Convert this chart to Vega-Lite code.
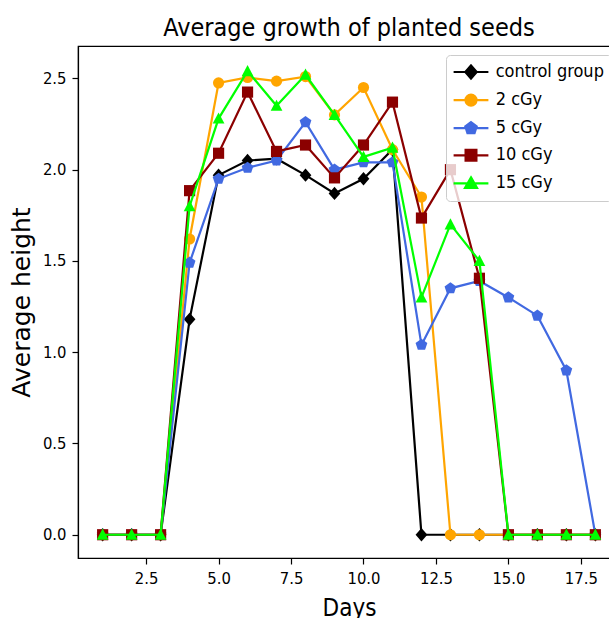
{
  "$schema": "https://vega.github.io/schema/vega-lite/v6.json",
  "autosize": "none",
  "width": 542,
  "height": 512,
  "padding": {"left": 78, "top": 46, "right": 0, "bottom": 60},
  "background": "white",
  "config": {
    "view": {"stroke": "black", "strokeWidth": 1.2},
    "axis": {
      "domainColor": "black", "domainWidth": 1.2, "tickColor": "black", "tickWidth": 1.2, "tickSize": 6,
      "labelColor": "black", "titleColor": "black", "grid": false,
      "labelFont": "DejaVu Sans Condensed", "labelFontSize": 16.5,
      "titleFontWeight": "normal"
    },
    "line": {"strokeWidth": 2.2},
    "point": {"filled": true, "size": 125, "opacity": 1}
  },
  "title": {
    "text": "Average growth of planted seeds",
    "font": "DejaVu Sans Condensed", "fontSize": 25, "fontWeight": "normal", "color": "black",
    "anchor": "middle", "offset": 5
  },
  "data": {
    "values": [
      {"day": 1, "group": "control group", "height": 0},
      {"day": 2, "group": "control group", "height": 0},
      {"day": 3, "group": "control group", "height": 0},
      {"day": 4, "group": "control group", "height": 1.18},
      {"day": 5, "group": "control group", "height": 1.97},
      {"day": 6, "group": "control group", "height": 2.05},
      {"day": 7, "group": "control group", "height": 2.06},
      {"day": 8, "group": "control group", "height": 1.97},
      {"day": 9, "group": "control group", "height": 1.87},
      {"day": 10, "group": "control group", "height": 1.95},
      {"day": 11, "group": "control group", "height": 2.11},
      {"day": 12, "group": "control group", "height": 0},
      {"day": 13, "group": "control group", "height": 0},
      {"day": 14, "group": "control group", "height": 0},
      {"day": 15, "group": "control group", "height": 0},
      {"day": 16, "group": "control group", "height": 0},
      {"day": 17, "group": "control group", "height": 0},
      {"day": 18, "group": "control group", "height": 0},
      {"day": 1, "group": "2 cGy", "height": 0},
      {"day": 2, "group": "2 cGy", "height": 0},
      {"day": 3, "group": "2 cGy", "height": 0},
      {"day": 4, "group": "2 cGy", "height": 1.62},
      {"day": 5, "group": "2 cGy", "height": 2.475},
      {"day": 6, "group": "2 cGy", "height": 2.505},
      {"day": 7, "group": "2 cGy", "height": 2.485},
      {"day": 8, "group": "2 cGy", "height": 2.51},
      {"day": 9, "group": "2 cGy", "height": 2.3},
      {"day": 10, "group": "2 cGy", "height": 2.45},
      {"day": 11, "group": "2 cGy", "height": 2.11},
      {"day": 12, "group": "2 cGy", "height": 1.85},
      {"day": 13, "group": "2 cGy", "height": 0},
      {"day": 14, "group": "2 cGy", "height": 0},
      {"day": 15, "group": "2 cGy", "height": 0},
      {"day": 16, "group": "2 cGy", "height": 0},
      {"day": 17, "group": "2 cGy", "height": 0},
      {"day": 18, "group": "2 cGy", "height": 0},
      {"day": 1, "group": "5 cGy", "height": 0},
      {"day": 2, "group": "5 cGy", "height": 0},
      {"day": 3, "group": "5 cGy", "height": 0},
      {"day": 4, "group": "5 cGy", "height": 1.49},
      {"day": 5, "group": "5 cGy", "height": 1.95},
      {"day": 6, "group": "5 cGy", "height": 2.01},
      {"day": 7, "group": "5 cGy", "height": 2.05},
      {"day": 8, "group": "5 cGy", "height": 2.26},
      {"day": 9, "group": "5 cGy", "height": 2.0},
      {"day": 10, "group": "5 cGy", "height": 2.04},
      {"day": 11, "group": "5 cGy", "height": 2.04},
      {"day": 12, "group": "5 cGy", "height": 1.04},
      {"day": 13, "group": "5 cGy", "height": 1.35},
      {"day": 14, "group": "5 cGy", "height": 1.39},
      {"day": 15, "group": "5 cGy", "height": 1.3},
      {"day": 16, "group": "5 cGy", "height": 1.2},
      {"day": 17, "group": "5 cGy", "height": 0.9},
      {"day": 18, "group": "5 cGy", "height": 0},
      {"day": 1, "group": "10 cGy", "height": 0},
      {"day": 2, "group": "10 cGy", "height": 0},
      {"day": 3, "group": "10 cGy", "height": 0},
      {"day": 4, "group": "10 cGy", "height": 1.885},
      {"day": 5, "group": "10 cGy", "height": 2.09},
      {"day": 6, "group": "10 cGy", "height": 2.425},
      {"day": 7, "group": "10 cGy", "height": 2.1},
      {"day": 8, "group": "10 cGy", "height": 2.135},
      {"day": 9, "group": "10 cGy", "height": 1.955},
      {"day": 10, "group": "10 cGy", "height": 2.135},
      {"day": 11, "group": "10 cGy", "height": 2.37},
      {"day": 12, "group": "10 cGy", "height": 1.735},
      {"day": 13, "group": "10 cGy", "height": 2.0},
      {"day": 14, "group": "10 cGy", "height": 1.405},
      {"day": 15, "group": "10 cGy", "height": 0},
      {"day": 16, "group": "10 cGy", "height": 0},
      {"day": 17, "group": "10 cGy", "height": 0},
      {"day": 18, "group": "10 cGy", "height": 0},
      {"day": 1, "group": "15 cGy", "height": 0},
      {"day": 2, "group": "15 cGy", "height": 0},
      {"day": 3, "group": "15 cGy", "height": 0},
      {"day": 4, "group": "15 cGy", "height": 1.8},
      {"day": 5, "group": "15 cGy", "height": 2.28},
      {"day": 6, "group": "15 cGy", "height": 2.54},
      {"day": 7, "group": "15 cGy", "height": 2.35},
      {"day": 8, "group": "15 cGy", "height": 2.52},
      {"day": 9, "group": "15 cGy", "height": 2.3},
      {"day": 10, "group": "15 cGy", "height": 2.07},
      {"day": 11, "group": "15 cGy", "height": 2.12},
      {"day": 12, "group": "15 cGy", "height": 1.3},
      {"day": 13, "group": "15 cGy", "height": 1.7},
      {"day": 14, "group": "15 cGy", "height": 1.5},
      {"day": 15, "group": "15 cGy", "height": 0},
      {"day": 16, "group": "15 cGy", "height": 0},
      {"day": 17, "group": "15 cGy", "height": 0},
      {"day": 18, "group": "15 cGy", "height": 0}
    ]
  },
  "encoding": {
    "x": {
      "field": "day", "type": "quantitative",
      "scale": {"domain": [0.15, 18.85], "nice": false, "zero": false},
      "axis": {"values": [2.5, 5, 7.5, 10, 12.5, 15, 17.5], "format": ".1f", "labelPadding": 6,
        "title": "Days", "titleFont": "DejaVu Sans Condensed", "titleFontSize": 24, "titlePadding": 10, "labelFlush": false}
    },
    "y": {
      "field": "height", "type": "quantitative",
      "scale": {"domain": [-0.1275, 2.6775], "nice": false, "zero": false},
      "axis": {"values": [0, 0.5, 1, 1.5, 2, 2.5], "format": ".1f", "labelPadding": 6,
        "title": "Average height", "titleFont": "DejaVu Sans", "titleFontSize": 25, "titlePadding": 8}
    },
    "color": {
      "field": "group", "type": "nominal",
      "scale": {"domain": ["control group", "2 cGy", "5 cGy", "10 cGy", "15 cGy"],
        "range": ["#000000", "#FFA500", "#4169E1", "#8B0000", "#00FF00"]},
      "legend": {
        "title": null, "orient": "none", "legendX": 368, "legendY": 9,
        "padding": 8, "symbolSize": 144, "symbolOffset": 8, "labelOffset": 15.7, "rowPadding": 7.1,
        "labelFont": "DejaVu Sans Condensed", "labelFontSize": 18, "labelColor": "black",
        "fillColor": "rgba(255,255,255,0.8)", "strokeColor": "#cccccc", "cornerRadius": 4,
        "symbolOpacity": 1, "symbolStrokeWidth": 2.2,
        "symbolType": {"expr": "datum.value === 'control group' ? 'M-2.9,0H2.9M0,-1.1L0.95,0L0,1.1L-0.95,0Z' : datum.value === '2 cGy' ? 'M-2.9,0H2.9M-0.92,0A0.92,0.92,0,1,1,0.92,0A0.92,0.92,0,1,1,-0.92,0Z' : datum.value === '5 cGy' ? 'M-2.9,0H2.9M0,-1L0.95,-0.31L0.59,0.81L-0.59,0.81L-0.95,-0.31Z' : datum.value === '10 cGy' ? 'M-2.9,0H2.9M-0.9,-0.9H0.9V0.9H-0.9Z' : 'M-2.9,0H2.9M0,-1L1,0.75L-1,0.75Z'"},
        "symbolFillColor": {"expr": "scale('color', datum.value)"},
        "symbolStrokeColor": {"expr": "scale('color', datum.value)"}
      }
    }
  },
  "layer": [
    {"transform": [{"filter": "datum.group === 'control group'"}], "mark": {"type": "line"}},
    {"transform": [{"filter": "datum.group === 'control group'"}], "mark": {"type": "point", "shape": "M0,-1.2L1.05,0L0,1.2L-1.05,0Z"}},
    {"transform": [{"filter": "datum.group === '2 cGy'"}], "mark": {"type": "line"}},
    {"transform": [{"filter": "datum.group === '2 cGy'"}], "mark": {"type": "point", "shape": "circle"}},
    {"transform": [{"filter": "datum.group === '5 cGy'"}], "mark": {"type": "line"}},
    {"transform": [{"filter": "datum.group === '5 cGy'"}], "mark": {"type": "point", "shape": "M0,-1.1L1.05,-0.34L0.65,0.89L-0.65,0.89L-1.05,-0.34Z"}},
    {"transform": [{"filter": "datum.group === '10 cGy'"}], "mark": {"type": "line"}},
    {"transform": [{"filter": "datum.group === '10 cGy'"}], "mark": {"type": "point", "shape": "square"}},
    {"transform": [{"filter": "datum.group === '15 cGy'"}], "mark": {"type": "line"}},
    {"transform": [{"filter": "datum.group === '15 cGy'"}], "mark": {"type": "point", "shape": "M0,-1.1L1.05,0.9L-1.05,0.9Z"}}
  ]
}
